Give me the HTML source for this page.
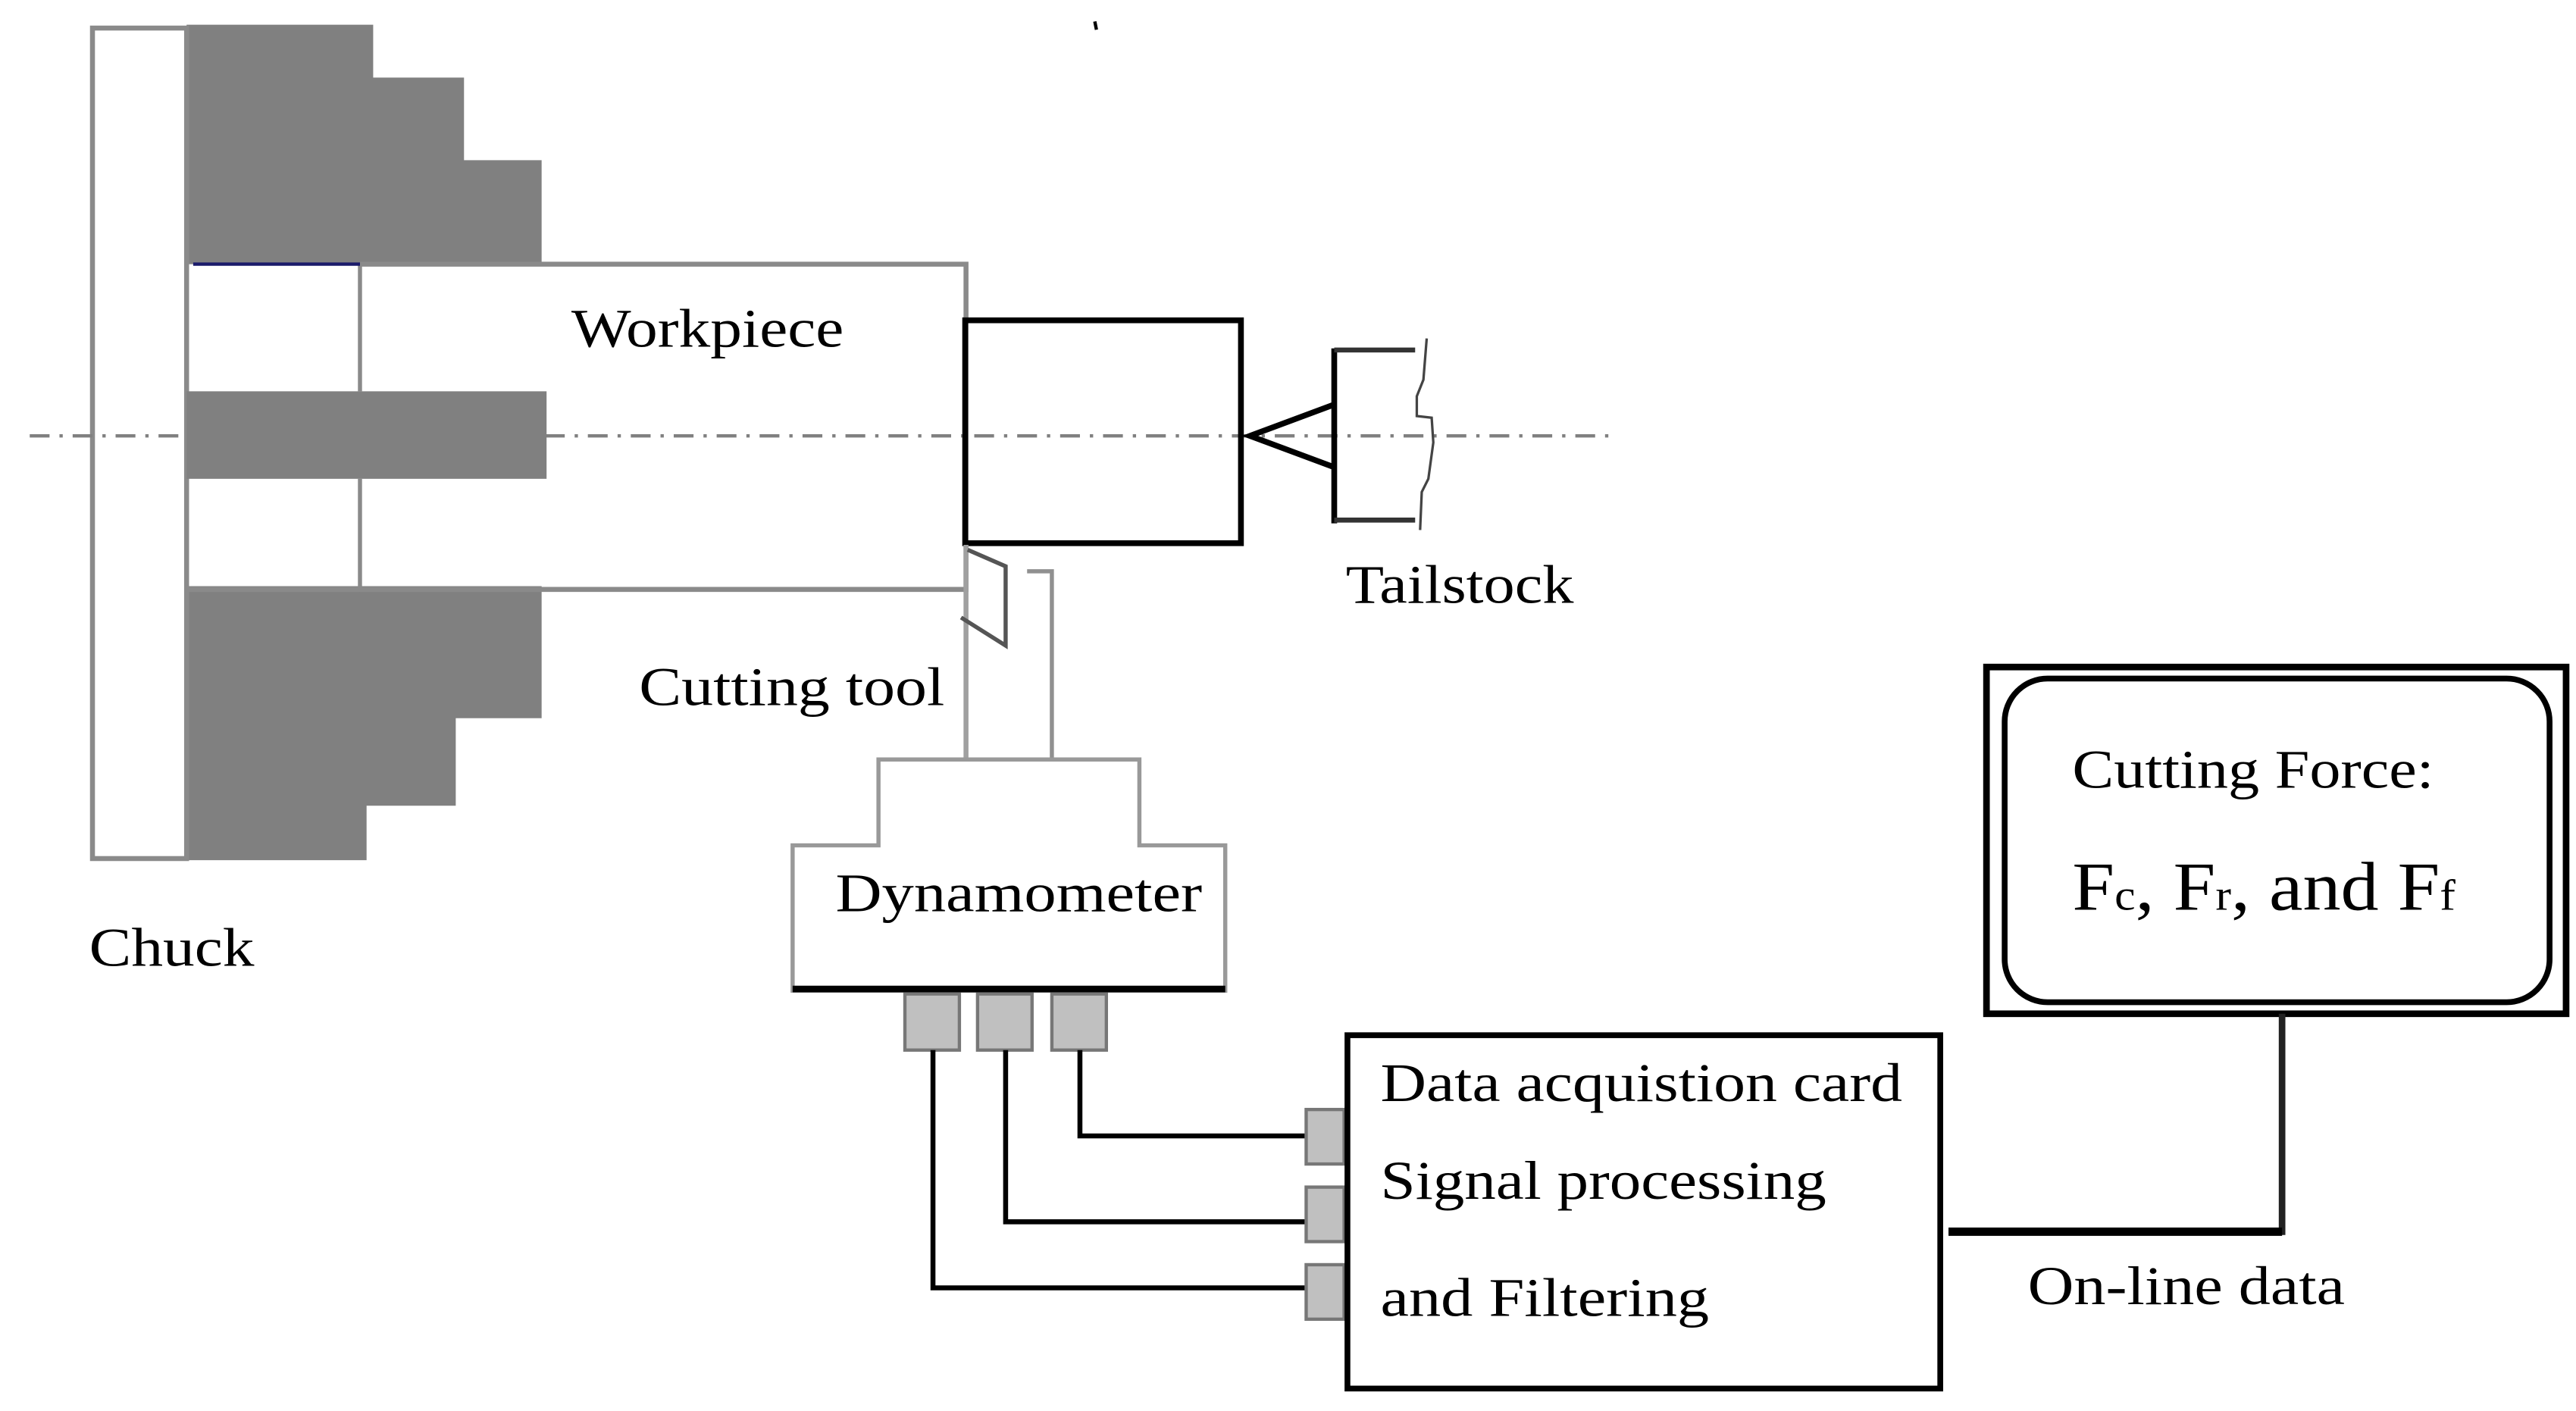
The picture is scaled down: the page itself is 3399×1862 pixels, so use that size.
<!DOCTYPE html>
<html><head><meta charset="utf-8"><style>html,body{margin:0;padding:0;background:#fff}svg{display:block}</style></head>
<body>
<svg width="3399" height="1862" viewBox="0 0 1560 854.6" preserveAspectRatio="none" xmlns="http://www.w3.org/2000/svg" font-family="'Liberation Serif', serif" fill="#000">
<rect x="0" y="0" width="1560" height="855" fill="#fff"/>
<polygon points="113,15 226,15 226,47 281,47 281,97 328,97 328,160 113,160" fill="#808080"/>
<polygon points="113,355 328,355 328,435 276,435 276,488 222,488 222,521 113,521" fill="#808080"/>
<rect x="56" y="17" width="57" height="503" fill="#fff" stroke="#8a8a8a" stroke-width="3"/>
<path d="M218,160 H585 V357 H218" fill="none" stroke="#8a8a8a" stroke-width="3"/>
<line x1="218" y1="160" x2="218" y2="237" stroke="#8a8a8a" stroke-width="2.5"/>
<line x1="218" y1="290" x2="218" y2="357" stroke="#8a8a8a" stroke-width="2.5"/>
<line x1="117" y1="160" x2="218" y2="160" stroke="#1a1a6a" stroke-width="2"/>
<line x1="113" y1="357" x2="218" y2="357" stroke="#8a8a8a" stroke-width="3"/>
<rect x="113" y="237" width="218" height="53" fill="#808080"/>
<line x1="18" y1="264" x2="975" y2="264" stroke="#808080" stroke-width="2" stroke-dasharray="12,6,2,6"/>
<rect x="584.5" y="194" width="167" height="135" fill="none" stroke="#000" stroke-width="3.5"/>
<polyline points="808,245 757,264 808,283" fill="none" stroke="#000" stroke-width="3.5"/>
<line x1="808" y1="211" x2="808" y2="317" stroke="#000" stroke-width="3.5"/>
<line x1="808" y1="212" x2="857" y2="212" stroke="#333" stroke-width="3"/>
<line x1="808" y1="315" x2="857" y2="315" stroke="#333" stroke-width="3"/>
<polyline points="864,205 862,230 858,240 858,252 867,253 868,268 865,290 861,298 860,321" fill="none" stroke="#444" stroke-width="1.5"/>
<line x1="585" y1="330" x2="585" y2="460" stroke="#a0a0a0" stroke-width="3"/>
<polyline points="622,346 637,346 637,460" fill="none" stroke="#909090" stroke-width="2.5"/>
<polyline points="586,333 609,343 609,391 582,374" fill="none" stroke="#555" stroke-width="2.5"/>
<polygon points="532,460 690,460 690,512 742,512 742,600 480,600 480,512 532,512" fill="#fff" stroke="#999" stroke-width="2.5"/>
<line x1="480" y1="599" x2="742" y2="599" stroke="#000" stroke-width="4"/>
<rect x="548" y="602" width="33" height="34" fill="#c0c0c0" stroke="#777" stroke-width="2"/>
<rect x="592" y="602" width="33" height="34" fill="#c0c0c0" stroke="#777" stroke-width="2"/>
<rect x="637" y="602" width="33" height="34" fill="#c0c0c0" stroke="#777" stroke-width="2"/>
<polyline points="565,636 565,780 792,780" fill="none" stroke="#000" stroke-width="3"/>
<polyline points="609,636 609,740 792,740" fill="none" stroke="#000" stroke-width="3"/>
<polyline points="654,636 654,688 792,688" fill="none" stroke="#000" stroke-width="3"/>
<rect x="791" y="672" width="23" height="33" fill="#c0c0c0" stroke="#777" stroke-width="2"/>
<rect x="791" y="719" width="23" height="33" fill="#c0c0c0" stroke="#777" stroke-width="2"/>
<rect x="791" y="766" width="23" height="33" fill="#c0c0c0" stroke="#777" stroke-width="2"/>
<rect x="816" y="627" width="359" height="214" fill="none" stroke="#000" stroke-width="3.5"/>
<rect x="1203" y="404" width="351" height="210" fill="none" stroke="#000" stroke-width="4"/>
<rect x="1214" y="411" width="330" height="196" rx="26" fill="none" stroke="#000" stroke-width="3.5"/>
<polyline points="1382,614 1382,746 1180,746" fill="none" stroke="#222" stroke-width="4"/>
<line x1="1180" y1="746" x2="1382" y2="746" stroke="#000" stroke-width="5"/>
<line x1="663" y1="13" x2="664" y2="18" stroke="#000" stroke-width="2"/>
<g font-size="33">
<text x="346" y="210" textLength="165" lengthAdjust="spacingAndGlyphs">Workpiece</text>
<text x="815" y="365" textLength="138" lengthAdjust="spacingAndGlyphs">Tailstock</text>
<text x="387" y="427" textLength="185" lengthAdjust="spacingAndGlyphs">Cutting tool</text>
<text x="506" y="552" textLength="222" lengthAdjust="spacingAndGlyphs">Dynamometer</text>
<text x="54" y="585" textLength="100" lengthAdjust="spacingAndGlyphs">Chuck</text>
<text x="836" y="667" textLength="316" lengthAdjust="spacingAndGlyphs">Data acquistion card</text>
<text x="836" y="726" textLength="270" lengthAdjust="spacingAndGlyphs">Signal processing</text>
<text x="836" y="797" textLength="199" lengthAdjust="spacingAndGlyphs">and Filtering</text>
<text x="1228" y="790" textLength="192" lengthAdjust="spacingAndGlyphs">On-line data</text>
<text x="1255" y="477" textLength="219" lengthAdjust="spacingAndGlyphs">Cutting Force:</text>
</g>
<text x="1255" y="551" font-size="42" textLength="232" lengthAdjust="spacingAndGlyphs">F<tspan font-size="26">c</tspan>, F<tspan font-size="26">r</tspan>, and F<tspan font-size="26">f</tspan></text>
</svg>
</body></html>
